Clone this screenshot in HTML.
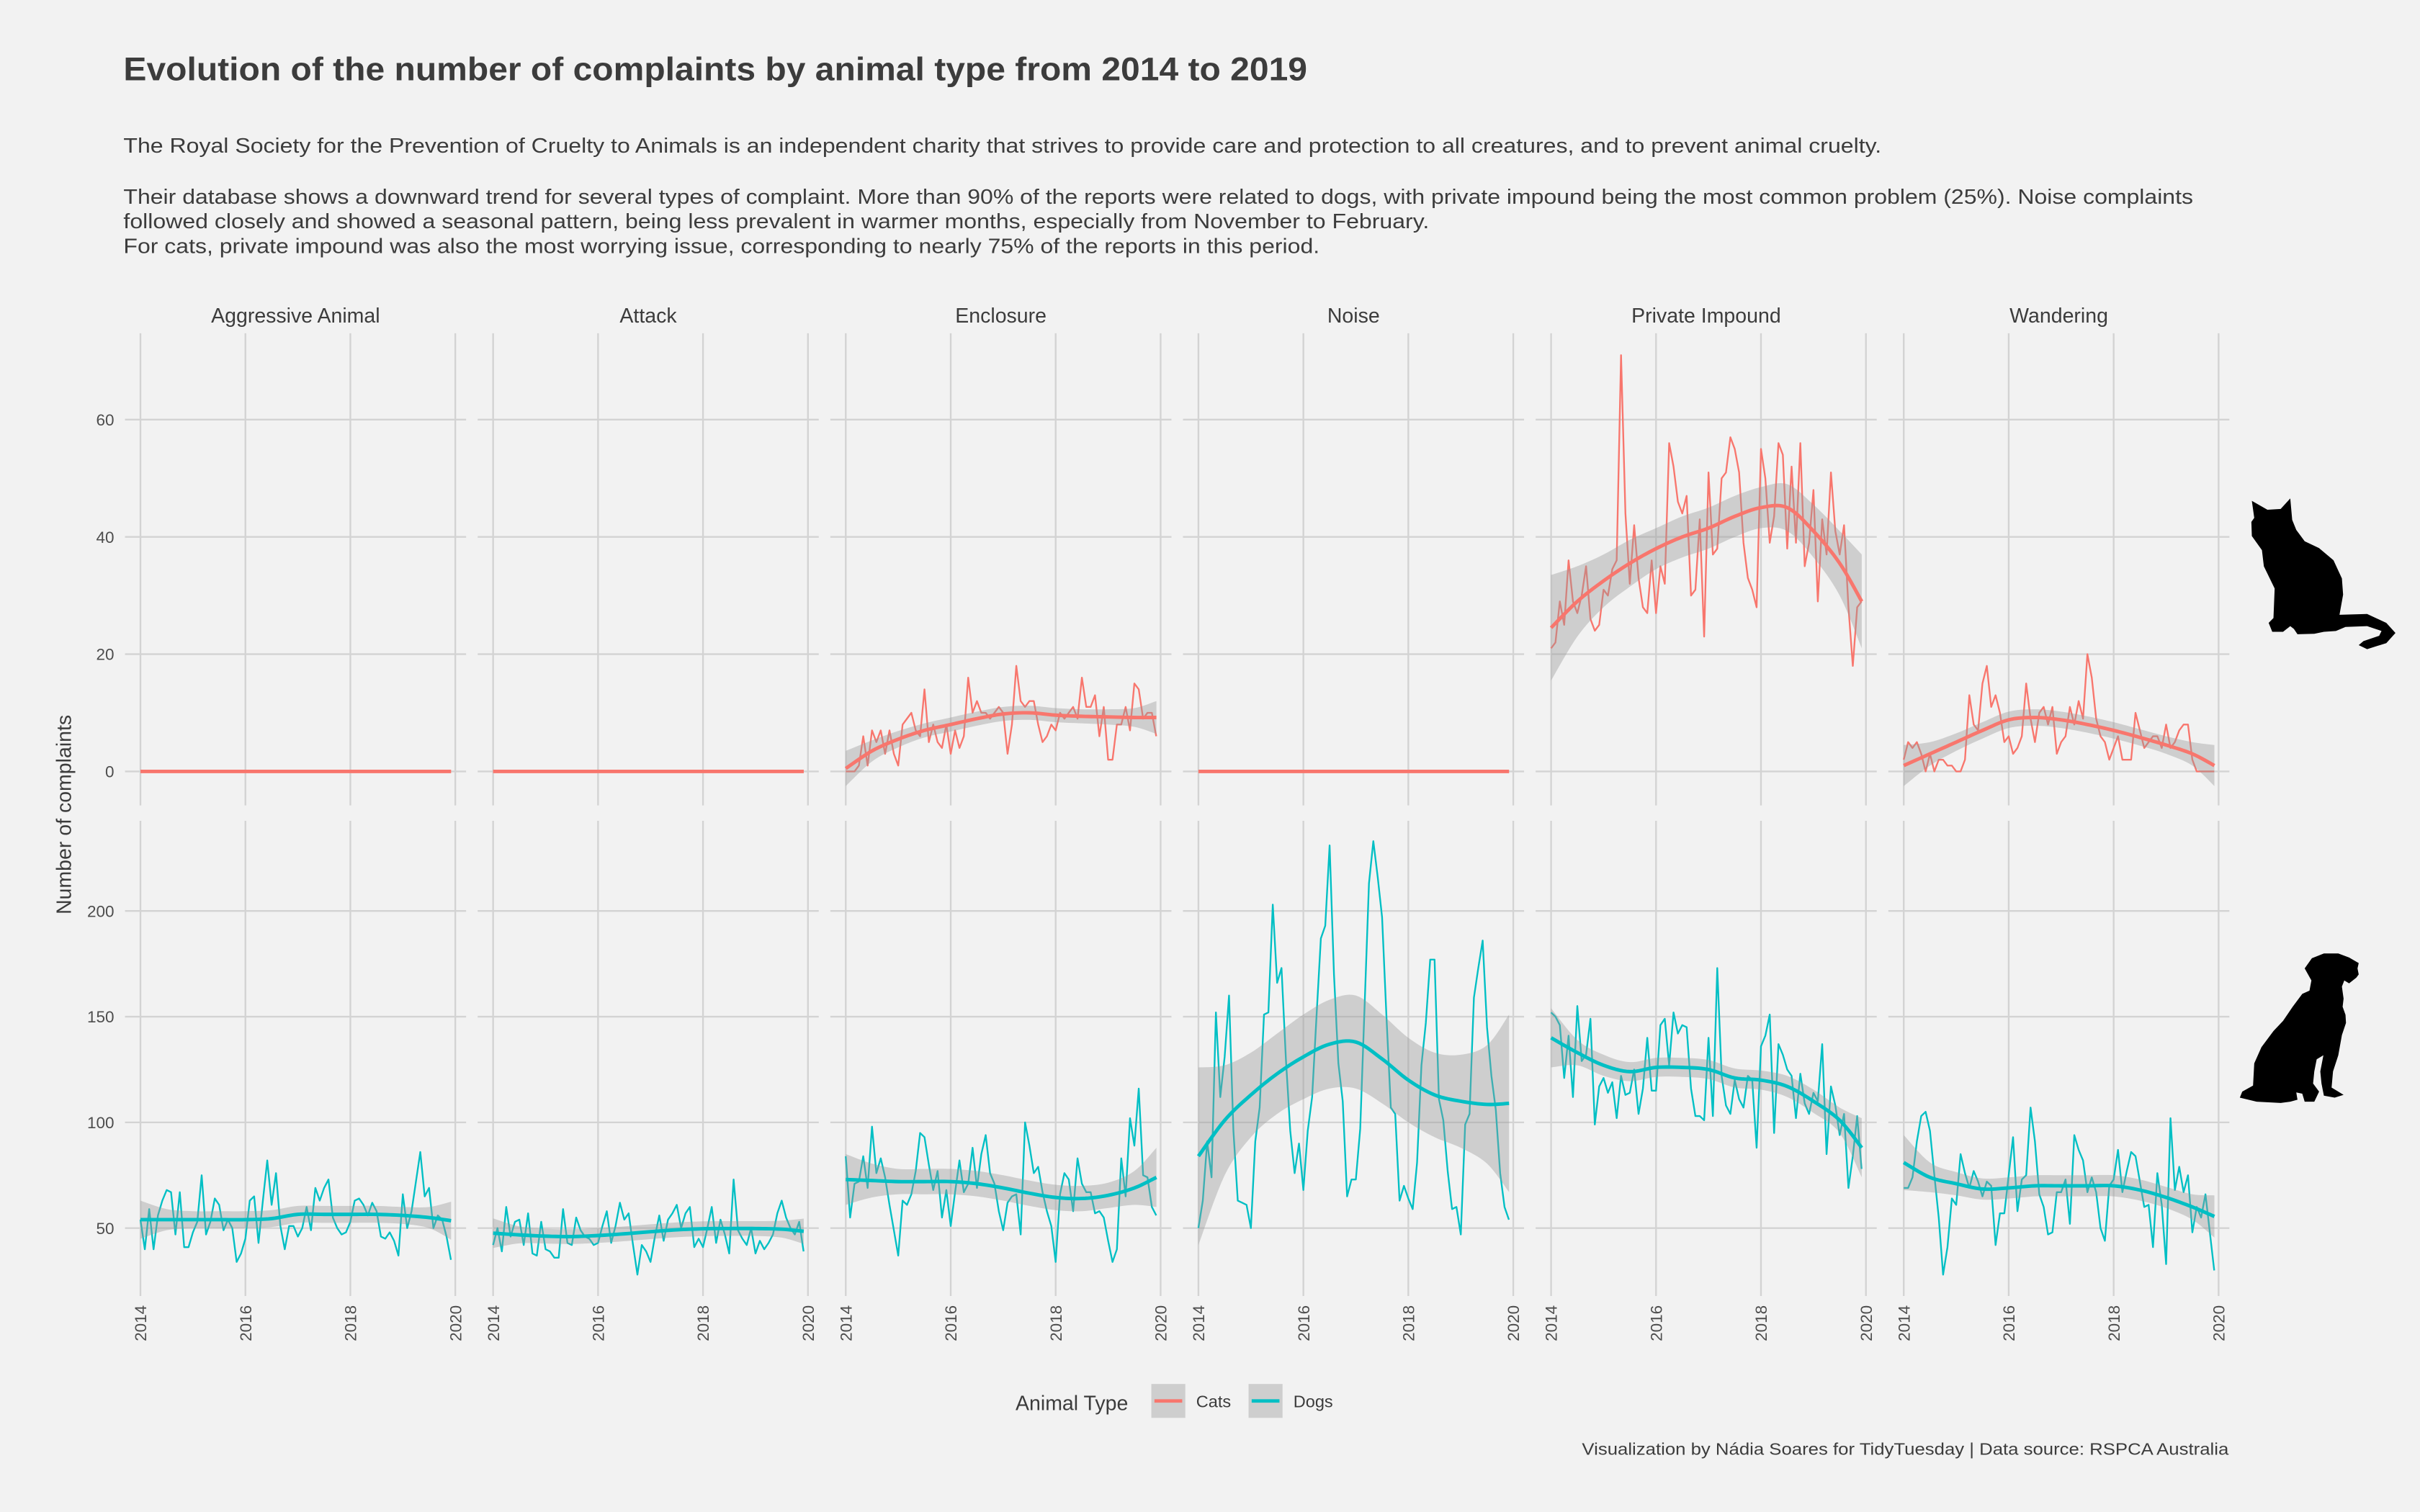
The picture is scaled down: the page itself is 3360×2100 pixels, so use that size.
<!DOCTYPE html>
<html><head><meta charset="utf-8">
<style>
html,body{margin:0;padding:0;background:#f2f2f2;}
svg{display:block;font-family:"Liberation Sans",Arial,sans-serif;}
</style></head>
<body>
<svg id="chart" width="3360" height="2100" viewBox="0 0 1568 980" xmlns="http://www.w3.org/2000/svg">
<rect x="0" y="0" width="1568" height="980" fill="#f2f2f2"/>
<text x="80" y="52" font-size="21" font-weight="bold" fill="#3c3c3c" textLength="767" lengthAdjust="spacingAndGlyphs">Evolution of the number of complaints by animal type from 2014 to 2019</text>
<g font-size="13.3" fill="#3c3c3c">
<text x="80" y="99" textLength="1139" lengthAdjust="spacingAndGlyphs">The Royal Society for the Prevention of Cruelty to Animals is an independent charity that strives to provide care and protection to all creatures, and to prevent animal cruelty.</text>
<text x="80" y="132" textLength="1341" lengthAdjust="spacingAndGlyphs">Their database shows a downward trend for several types of complaint. More than 90% of the reports were related to dogs, with private impound being the most common problem (25%). Noise complaints</text>
<text x="80" y="148" textLength="846" lengthAdjust="spacingAndGlyphs">followed closely and showed a seasonal pattern, being less prevalent in warmer months, especially from November to February.</text>
<text x="80" y="164" textLength="775" lengthAdjust="spacingAndGlyphs">For cats, private impound was also the most worrying issue, corresponding to nearly 75% of the reports in this period.</text>
</g>
<g id="grid"></g>
<g id="marks"></g>
<g id="labels"></g>
<text x="0" y="0" transform="translate(46,528) rotate(-90)" text-anchor="middle" font-size="13.3" fill="#3c3c3c">Number of complaints</text>
<g>
<text x="658" y="914" font-size="13.3" fill="#3c3c3c">Animal Type</text>
<g>
<rect x="746" y="897" width="22" height="22" fill="#cecece"/>
<line x1="748" y1="908" x2="766" y2="908" stroke="#F8766D" stroke-width="2.2"/>
<text x="775" y="912" font-size="11" fill="#3c3c3c">Cats</text>
</g>
<g>
<rect x="809" y="897" width="22" height="22" fill="#cecece"/>
<line x1="811" y1="908" x2="829" y2="908" stroke="#00BFC4" stroke-width="2.2"/>
<text x="838" y="912" font-size="11" fill="#3c3c3c">Dogs</text>
</g>
</g>
<text x="1025" y="943" font-size="11" fill="#3c3c3c" textLength="419" lengthAdjust="spacingAndGlyphs">Visualization by Nádia Soares for TidyTuesday | Data source: RSPCA Australia</text>
<path fill="#000" transform="translate(1446.6,317.3) scale(0.1556,0.2619)" d="M80,28 L145,50 L200,48 L240,22 L248,75 L265,100 L300,128 L360,145 L420,175 L455,220 L460,260 L445,310 L560,308 L640,330 L678,355 L640,380 L560,395 L525,385 L545,375 L610,362 L620,350 L560,338 L470,340 L430,350 L380,352 L340,357 L270,358 L255,345 L240,338 L210,352 L165,352 L150,330 L170,318 L175,245 L130,190 L122,150 L80,115 L78,80 L90,70 Z"/>
<path fill="#000" transform="translate(1446.6,317.3) scale(0.1556,0.2619)" d="M300,1185 L330,1160 L380,1148 L440,1148 L485,1158 L525,1172 L520,1185 L525,1200 L515,1208 L485,1222 L465,1215 L455,1230 L462,1260 L458,1280 L470,1300 L472,1320 L455,1350 L440,1400 L418,1440 L412,1480 L440,1490 L462,1498 L425,1505 L380,1500 L370,1470 L365,1440 L378,1400 L350,1410 L340,1440 L335,1470 L360,1490 L340,1515 L300,1515 L290,1495 L265,1492 L270,1510 L240,1515 L200,1518 L100,1515 L30,1505 L40,1490 L85,1475 L90,1420 L120,1380 L170,1340 L210,1315 L250,1280 L290,1248 L320,1240 L328,1215 Z"/>
</svg>
<script>
const panelNames = ["Aggressive Animal","Attack","Enclosure","Noise","Private Impound","Wandering"];
const xTicks = [2014,2016,2018,2020];
const xTickLabels = ["2014","2016","2018","2020"];
const topTicks = [0,20,40,60];
const botTicks = [50,100,150,200];
const knots = [2014,2014.5,2015,2015.5,2016,2016.5,2017,2017.5,2018,2018.5,2019,2019.5,2019.92];

const catsZero = [0,0,0,0,0,0,0,0,0,0,0,0,0,0,0,0,0,0,0,0,0,0,0,0,0,0,0,0,0,0,0,0,0,0,0,0,0,0,0,0,0,0,0,0,0,0,0,0,0,0,0,0,0,0,0,0,0,0,0,0,0,0,0,0,0,0,0,0,0,0,0,0];
const catsZeroSmooth = [0,0,0,0,0,0,0,0,0,0,0,0,0];
const catsZeroHW = [0,0,0,0,0,0,0,0,0,0,0,0,0];

const catsEnclosure = [0,0,0,1,6,1,7,5,7,3,7,3,1,8,9,10,7,6,14,5,8,5,4,8,3,7,4,6,16,10,12,10,10,9,10,11,10,3,8,18,12,11,12,12,8,5,6,8,7,10,9,10,11,9,16,11,11,13,6,11,2,2,8,8,11,7,15,14,9,10,10,6];
const catsEnclosureSmooth = [0.5,3.5,5.5,7,8,9,9.8,10,9.6,9.4,9.3,9.2,9.2];
const catsEnclosureHW = [3,1.8,1.4,1.2,1.2,1.2,1.2,1.2,1.2,1.2,1.3,1.6,2.8];

const catsImpound = [21,22,29,25,36,29,27,30,35,26,24,25,31,30,34.5,36,71,44,32,42,33,28,27,36,27,35,32,56,52,46,44,47,30,31,43,23,51,37,38,50,51,57,55,51,39,33,31,28,55,50,39,43.5,56,54,38,52,39,56,35,39,48,29,43,37,51,41,37,42,28,18,28,29];
const catsImpoundSmooth = [24.5,29,32.5,35.5,38,40,41.5,43.5,45,45,41,35.5,29];
const catsImpoundHW = [9,6,4.5,4,3.5,3.5,3.5,3.5,3.5,4,4.5,5.5,8];

const catsWandering = [2,5,4,5,3,0,3,0,2,2,1,1,0,0,2,13,8,7,15,18,11,13,10,5,6,3,4,6,15,9,5,10,11,8,11,3,5,6,11,8,12,9,20,16,9,6,5,2,4,6,2,2,2,10,7,4,5,6,6,4,8,4,5,7,8,8,2,0,0,0,0,0];
const catsWanderingSmooth = [1,3,5,7,8.8,9.2,8.8,8,7,5.8,4.5,3,1];
const catsWanderingHW = [3.5,2,1.5,1.4,1.4,1.4,1.4,1.4,1.4,1.4,1.5,2,3.5];

const dogsAggressive = [54,40,59,40,56,63,68,67,47,67,41,41,48,53,75,47,53,64,61,49,54,50,34,38,45,63,65,43,63,82,61,76,51,40,51,51,46,50,60,49,69,63,69,73,55,50,47,48,53,63,64,61,56,62,58,46,45,48,44,37,66,50,58,72,86,65,69,50,56,54,46,35];
const dogsAggressiveSmooth = [54,54,54,54,54,54.5,56.5,56.5,56.5,56.5,56,55,53.5];
const dogsAggressiveHW = [9,5,4,4,4,4,4,4,4,4,4,5,9];

const dogsAttack = [42,50,39,60,46,53,54,42,57,38,37,53,40,39,36,36,59,43,42,55,49,46,45,42,43,51,58,43,51,62,54,57,42,28,42,39,34,46,56,44,54,57,61,50,57,60,41,45,41,50,60,43,54,47,38,73,49,45,42,50,38,44,40,43,47,57,63,55,50,47,53,39];
const dogsAttackSmooth = [47.6,46.8,46.2,46,46.5,47.3,48.3,49.2,49.7,49.8,49.8,49.5,48.5];
const dogsAttackHW = [7,4,3.5,3.5,3.5,3.5,3.5,3.5,3.5,3.5,3.5,4,6];

const dogsEnclosure = [84,55,71,72,84,69,98,76,83,74,61,49,37,63,61,66,77,95,93,80,68,77,55,68,51,67,82,67,71,88,69,85,94,76,71,58,49,62,65,66,47,100,89,76,79,67,58,51,34,66,76,73,58,83,71,67,67,57,58,55,44,34,40,83,65,102,89,116,75,74,60,56];
const dogsEnclosureSmooth = [73,72.5,72,72,72,71,69,66.5,64.5,64,65.5,69,74];
const dogsEnclosureHW = [12,8,6,6,6,6,6,6,6,6,6,8,14];

const dogsNoise = [50,63,91,74,152,112,131,160,96,63,62,61,50,91,107,151,152,203,166,173,130,96,76,90,68,96,112,150,187,193,231,170,128,110,65,73,73,97,155,213,233,216,197,150,107,104,63,70,64,59,81,127,147,177,177,111,101,77,59,60,47,99,104,159,173,186,145,122,106,76,60,54];
const dogsNoiseSmooth = [84,101,113,123,131,137,138,130,120,113,110,108.5,109];
const dogsNoiseHW = [42,26,20,19,20,21,22,21,20,20,22,28,42];

const dogsImpound = [152,150,146,121,141,112,155,129,132,149,99,117,121,114,119,102,122,113,114,125,104,116,140,115,115,146,149,127,152,142,146,145,116,103,103,101,140,103,173,122,108,104,120,111,107,122,120,88,136,141,151,95,137,132,125,122,102,123,109,104,114,110,137,85,117,108,94,104,69,84,103,78];
const dogsImpoundSmooth = [140,133,127,124,126,126,125,121,120,117,110,101,88];
const dogsImpoundHW = [14,6,5,4.5,4.5,4.5,4.5,4.5,4.5,5,5.5,6,14];

const dogsWandering = [69,69,74,91,103,105,96,75,55,28,41,64,61,85,76,69,77,72,65,72,70,42,57,57,75,93,58,73,75,107,91,66,60,47,48,67,67,73,52,94,87,82,67,74,67,50,44,70,73,87,67,77,86,84,72,60,61,41,76,61,33,102,68,79,67,75,48,60,55,66,48,30];
const dogsWanderingSmooth = [81,74,71,68.5,69,70,70,70,70,68,64.5,60,55.5];
const dogsWanderingHW = [13,7,5.5,5,5,5,5,5,5,5,5,6,10];

const catsSeries = [catsZero,catsZero,catsEnclosure,catsZero,catsImpound,catsWandering];
const catsSmooths = [catsZeroSmooth,catsZeroSmooth,catsEnclosureSmooth,catsZeroSmooth,catsImpoundSmooth,catsWanderingSmooth];
const catsHWs = [catsZeroHW,catsZeroHW,catsEnclosureHW,catsZeroHW,catsImpoundHW,catsWanderingHW];
const dogsSeries = [dogsAggressive,dogsAttack,dogsEnclosure,dogsNoise,dogsImpound,dogsWandering];
const dogsSmooths = [dogsAggressiveSmooth,dogsAttackSmooth,dogsEnclosureSmooth,dogsNoiseSmooth,dogsImpoundSmooth,dogsWanderingSmooth];
const dogsHWs = [dogsAggressiveHW,dogsAttackHW,dogsEnclosureHW,dogsNoiseHW,dogsImpoundHW,dogsWanderingHW];

const NS = "http://www.w3.org/2000/svg";
const PANEL_STEP = 228.5, X0 = 91, PX_YEAR = 34;
function xOf(p, yr){ return X0 + p*PANEL_STEP + (yr-2014)*PX_YEAR; }
function yTop(v){ return 500 - v*3.8; }
function yBot(v){ return 796 - (v-50)*1.3705; }
const rows = [
  {scale:yTop, top:216, bottom:522, ticks:topTicks, series:catsSeries, smooth:catsSmooths, hw:catsHWs, color:"#F8766D", name:"cats"},
  {scale:yBot, top:532, bottom:840, ticks:botTicks, series:dogsSeries, smooth:dogsSmooths, hw:dogsHWs, color:"#00BFC4", name:"dogs"}
];
function mk(tag, attrs, parent){ const e=document.createElementNS(NS,tag); for(const k in attrs) e.setAttribute(k,attrs[k]); parent.appendChild(e); return e; }
function catmull(xs, ys, n){
  const out=[];
  for(let i=0;i<xs.length-1;i++){
    const x0=xs[Math.max(i-1,0)], y0=ys[Math.max(i-1,0)];
    const x1=xs[i], y1=ys[i], x2=xs[i+1], y2=ys[i+1];
    const x3=xs[Math.min(i+2,xs.length-1)], y3=ys[Math.min(i+2,xs.length-1)];
    for(let s=0;s<n;s++){
      const t=s/n, t2=t*t, t3=t2*t;
      const f=(a,b,c,d)=>0.5*((2*b)+(-a+c)*t+(2*a-5*b+4*c-d)*t2+(-a+3*b-3*c+d)*t3);
      out.push([f(x0,x1,x2,x3), f(y0,y1,y2,y3)]);
    }
  }
  out.push([xs[xs.length-1], ys[ys.length-1]]);
  return out;
}
const grid=document.getElementById('grid'), marks=document.getElementById('marks'), labels=document.getElementById('labels');

for(let p=0;p<6;p++){
  const left = xOf(p,2014)-10, right = xOf(p,2020)+7;
  const strip = mk('text',{x:(left+right)/2, y:209, 'text-anchor':'middle', 'font-size':13.3, fill:'#3c3c3c'}, labels);
  strip.textContent = panelNames[p];
  
  
  rows.forEach((row, r)=>{
    row.ticks.forEach(t=>{
      const gl = mk('line',{x1:left, x2:right, y1:row.scale(t), y2:row.scale(t), stroke:'#d3d3d3', 'stroke-width':1.1}, grid);
      
      
    });
    xTicks.forEach(t=>{
      const gl = mk('line',{x1:xOf(p,t), x2:xOf(p,t), y1:row.top, y2:row.bottom, stroke:'#d3d3d3', 'stroke-width':1.1}, grid);
      
      
    });
    const vals = row.series[p];
    let d = '';
    vals.forEach((v,i)=>{ d += (i?'L':'M') + xOf(p, 2014+i/12).toFixed(2) + ',' + row.scale(v).toFixed(2); });
    const ln = mk('path',{d:d, fill:'none', stroke:row.color, 'stroke-width':1.1, 'stroke-linejoin':'round'}, marks);
    
    
    const kx = knots.map(k=>xOf(p,k));
    const sm = row.smooth[p], hw = row.hw[p];
    const hi = catmull(kx, sm.map((v,i)=>row.scale(v+hw[i])), 8);
    const lo = catmull(kx, sm.map((v,i)=>row.scale(v-hw[i])), 8);
    const bd = 'M' + hi.map(q=>q[0].toFixed(2)+','+q[1].toFixed(2)).join('L') + 'L' + lo.reverse().map(q=>q[0].toFixed(2)+','+q[1].toFixed(2)).join('L') + 'Z';
    const band = mk('path',{d:bd, fill:'#999999', 'fill-opacity':0.4, stroke:'none'}, marks);
    
    
    const mid = catmull(kx, sm.map(v=>row.scale(v)), 8);
    const sd = 'M' + mid.map(q=>q[0].toFixed(2)+','+q[1].toFixed(2)).join('L');
    const sl = mk('path',{d:sd, fill:'none', stroke:row.color, 'stroke-width':2.3, 'stroke-linecap':'butt'}, marks);
    
    
  });
  xTicks.forEach((t,i)=>{
    const x = xOf(p,t);
    const tx = mk('text',{x:0, y:0, transform:'translate('+(x+3.8)+',846) rotate(-90)', 'text-anchor':'end', 'font-size':10.5, fill:'#4d4d4d'}, labels);
    tx.textContent = xTickLabels[i];
    
    
  });
}
rows.forEach(row=>{
  row.ticks.forEach(t=>{
    const tx = mk('text',{x:74, y:row.scale(t)+3.8, 'text-anchor':'end', 'font-size':10.5, fill:'#4d4d4d'}, labels);
    tx.textContent = String(t);
    
    
  });
});
</script>
</body></html>
